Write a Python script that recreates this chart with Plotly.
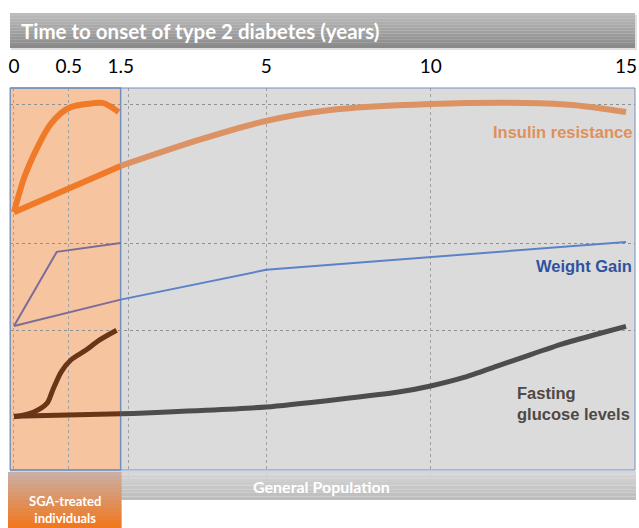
import numpy as np
import plotly.graph_objects as go

# ---------------- data ----------------
tick_years = [0, 0.5, 1.5, 5, 10, 15]
tick_labels = ["0", "0.5", "1.5", "5", "10", "15"]
grid_years = [0, 0.5, 1.69, 5, 10]
level_grid = [36.6, 59.4, 95.8]

# SGA-treated individuals (compressed onset, 0-1.5 years)
sga_ins_t = [0, 0.095, 0.216, 0.328, 0.431, 0.539, 0.833, 1.147, 1.324, 1.461]
sga_ins_v = [67.5, 76.7, 84.6, 90.3, 93.5, 95.0, 95.8, 96.1, 95.0, 93.7]
sga_wt_t = [0, 0.39, 1.5]
sga_wt_v = [37.7, 57.1, 59.4]
sga_glu_t = [0, 0.181, 0.302, 0.353, 0.431, 0.539, 0.833, 1.088, 1.422]
sga_glu_v = [13.9, 15.2, 17.5, 20.9, 25.7, 28.8, 31.4, 34.0, 36.6]

# General population (0-15 years)
gen_ins_t = [0, 1.5, 3.38, 5, 6.89, 10, 12.45, 13.7, 15]
gen_ins_v = [67.5, 79.6, 86.4, 91.4, 94.2, 95.8, 96.1, 95.5, 93.7]
gen_wt_t = [0, 1.5, 5, 15]
gen_wt_v = [37.7, 44.6, 52.4, 59.7]
gen_glu_t = [0, 1.5, 5, 9.02, 10, 10.875, 11.7, 12.525, 13.375, 14.2, 15]
gen_glu_v = [14.1, 14.7, 16.5, 20.4, 22.0, 24.3, 27.2, 30.1, 33.0, 35.4, 37.6]

SPLIT = 1.5

# ---------------- layout helpers ----------------
W, H = 639, 528
ML, MR, MT, MB = 10, 2, 88, 58
PW, PH = W - ML - MR, H - MT - MB
axis_pos = [4, 59, 111, 257, 422, 618]  # schematic (non-linear) time axis


def warp(t):
    return np.interp(np.asarray(t, dtype=float), tick_years, axis_pos)


def px_x(p):
    return (p - ML) / PW


def px_y(p):
    return (H - MB - p) / PH


fig = go.Figure()


def add_split(ts, vs, c_sga, c_gen, width, shape="spline", smoothing=0.8):
    ts = np.asarray(ts, float)
    vs = np.asarray(vs, float)
    m1 = ts <= SPLIT
    m2 = ts >= SPLIT
    if m1.sum() >= 2:
        fig.add_trace(go.Scatter(x=warp(ts[m1]), y=vs[m1], mode="lines",
                                 line=dict(color=c_sga, width=width, shape=shape, smoothing=smoothing),
                                 hoverinfo="skip", showlegend=False, xaxis="x", yaxis="y"))
    if m2.sum() >= 2:
        fig.add_trace(go.Scatter(x=warp(ts[m2]), y=vs[m2], mode="lines",
                                 line=dict(color=c_gen, width=width, shape=shape, smoothing=smoothing),
                                 hoverinfo="skip", showlegend=False, xaxis="x", yaxis="y"))


ORANGE = "#f07a28"
ORANGE_GEN = "#dc9262"
WT_SGA = "#7b6c98"
WT_GEN = "#5b82c8"
GLU_SGA = "#6a3516"
GLU_GEN = "#4d4d4d"

# general population lines
add_split(gen_ins_t, gen_ins_v, ORANGE, ORANGE_GEN, 6)
add_split(gen_wt_t, gen_wt_v, WT_SGA, WT_GEN, 2, shape="linear")
add_split(gen_glu_t, gen_glu_v, GLU_SGA, GLU_GEN, 5, smoothing=0.5)
# SGA lines
add_split(sga_ins_t, sga_ins_v, ORANGE, ORANGE, 6)
add_split(sga_wt_t, sga_wt_v, WT_SGA, WT_SGA, 2, shape="linear")
add_split(sga_glu_t, sga_glu_v, GLU_SGA, GLU_SGA, 5)

# dummy trace for grid axis
fig.add_trace(go.Scatter(x=[None], y=[None], xaxis="x2", yaxis="y", showlegend=False))

shapes = []
# orange SGA region
shapes.append(dict(type="rect", xref="x", yref="paper", x0=0, x1=float(warp(SPLIT)), y0=0, y1=1,
                   fillcolor="#f7c4a0", line=dict(color="#7090c0", width=1.5), layer="below"))


def gradient(x0, x1, y0, y1, c_top, c_bot, n=10, layer="above"):
    ct = np.array([int(c_top[i:i + 2], 16) for i in (1, 3, 5)], float)
    cb = np.array([int(c_bot[i:i + 2], 16) for i in (1, 3, 5)], float)
    out = []
    for i in range(n):
        f = i / (n - 1)
        c = ct * (1 - f) + cb * f
        ya = y0 + (y1 - y0) * i / n
        yb = y0 + (y1 - y0) * (i + 1) / n
        out.append(dict(type="rect", xref="paper", yref="paper",
                        x0=px_x(x0), x1=px_x(x1), y0=px_y(yb), y1=px_y(ya),
                        fillcolor="rgb(%d,%d,%d)" % tuple(c), line=dict(width=0), layer=layer))
    return out


# header bar shadow + gradient
shapes.append(dict(type="rect", xref="paper", yref="paper", x0=px_x(11), x1=px_x(639),
                   y0=px_y(50), y1=px_y(15), fillcolor="rgba(0,0,0,0.12)", line=dict(width=0), layer="above"))
shapes += gradient(10, 637, 13, 48, "#bcbcbc", "#8a8a8a", n=12)
# bottom grey bar
shapes += gradient(10, 638, 471, 500, "#d6d6d6", "#bdbdbd", n=8)
# orange SGA box
shapes += gradient(8, 122, 472, 528, "#c9aea2", "#f07820", n=14)

# plot outline
shapes.append(dict(type="rect", xref="paper", yref="paper", x0=0, x1=1, y0=0, y1=1,
                   line=dict(color="#7090c0", width=1), fillcolor="rgba(0,0,0,0)", layer="above"))

fig.update_layout(shapes=shapes)

ann = [
    dict(text="<b>Time to onset of type 2 diabetes (years)</b>", xref="paper", yref="paper",
         x=px_x(19), y=px_y(31), xanchor="left", yanchor="middle", showarrow=False,
         font=dict(family="Lato", size=20.5, color="white")),
    dict(text="<b>Insulin resistance</b>", xref="paper", yref="y", x=px_x(636), y=88.5,
         xanchor="right", yanchor="middle", showarrow=False,
         font=dict(family="Liberation Sans", size=16.5, color="#e0905a")),
    dict(text="<b>Weight Gain</b>", xref="paper", yref="y", x=px_x(636), y=53.4,
         xanchor="right", yanchor="middle", showarrow=False,
         font=dict(family="Liberation Sans", size=16.5, color="#2f52a0")),
    dict(text="<b>Fasting<br>glucose levels</b>", xref="paper", yref="y", x=px_x(517), y=17.4,
         xanchor="left", yanchor="middle", align="left", showarrow=False,
         font=dict(family="Liberation Sans", size=16.5, color="#4f4844")),
    dict(text="<b>General Population</b>", xref="paper", yref="paper", x=px_x(322), y=px_y(486),
         xanchor="center", yanchor="middle", showarrow=False,
         font=dict(family="Lato", size=16, color="white")),
    dict(text="<b>SGA-treated<br>individuals</b>", xref="paper", yref="paper", x=px_x(65), y=px_y(510),
         xanchor="center", yanchor="middle", showarrow=False,
         font=dict(family="Lato", size=13, color="white")),
]
fig.update_layout(annotations=ann)

fig.update_layout(
    width=W, height=H,
    margin=dict(l=ML, r=MR, t=MT, b=MB, pad=0),
    paper_bgcolor="white", plot_bgcolor="#dcdbdc",
    xaxis=dict(range=[0, PW], side="top", tickmode="array", tickvals=warp(tick_years),
               ticktext=tick_labels, ticks="", showgrid=False, zeroline=False, showline=False,
               tickfont=dict(family="Lato", size=19, color="black"), ticklabelstandoff=10,
               ticklabeloverflow="allow", fixedrange=True),
    xaxis2=dict(range=[0, PW], overlaying="x", side="bottom", tickmode="array",
                tickvals=warp(grid_years), showticklabels=False, ticks="outside", ticklen=8,
                tickcolor="#a0a0a0", showgrid=True, gridcolor="#a0a0a0", griddash="dot",
                gridwidth=1, zeroline=False, showline=False),
    yaxis=dict(range=[0, 100], tickmode="array", tickvals=level_grid, showticklabels=False,
               ticks="", showgrid=True, gridcolor="#909090", griddash="dot", gridwidth=1,
               zeroline=False, showline=False, fixedrange=True),
)

fig.write_html("out.html", config={"displayModeBar": False},
               post_script="document.body.style.margin='0';document.body.style.overflow='hidden';")
